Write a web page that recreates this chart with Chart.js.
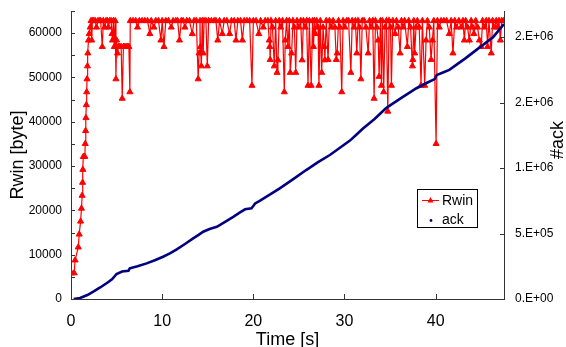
<!DOCTYPE html>
<html>
<head>
<meta charset="utf-8">
<script src="https://cdn.jsdelivr.net/npm/chart.js@4.4.1/dist/chart.umd.min.js"></script>
<style>
  html, body { margin: 0; padding: 0; background: #fff; }
  #wrap { width: 566px; height: 347px; }
</style>
</head>
<body>
<div id="wrap"><canvas id="rwinChart"></canvas></div>
<script>
// Rwin (受信ウィンドウ) : 時刻 [s] と値 [byte]
const rwinTime = [
  0.05, 0.35, 0.45, 0.8, 0.9, 1.05, 1.15, 1.22, 1.27, 1.3,
  1.35, 1.52, 1.56, 1.6, 1.64, 1.68, 1.72, 1.76, 1.8, 1.85,
  1.92, 2.0, 2.1, 2.2,
  2.27, 2.35, 2.5, 2.65, 2.8, 2.95, 3.1, 3.25, 3.43, 3.55,
  3.7, 3.85, 4.0, 4.1, 4.25, 4.4, 4.5, 4.55, 4.65, 4.75,
  4.85, 4.93, 5.0, 5.1, 5.2, 5.35, 5.5, 5.62, 5.75, 5.9,
  6.05, 6.2, 6.35, 6.46, 6.5,
  6.8, 7.1, 7.3, 7.5, 7.8, 8.1, 8.4, 8.65, 8.8, 9.1,
  9.3, 9.6, 9.86, 10.0, 10.2, 10.4, 10.7, 11.0, 11.2, 11.5,
  11.7, 11.9, 12.1, 12.3, 12.5, 12.7, 13.0, 13.3, 13.5, 13.75,
  13.95, 14.05, 14.15, 14.2, 14.3, 14.4, 14.5, 14.6, 14.8, 14.95,
  15.1, 15.4, 15.7, 15.9, 16.1, 16.3, 16.6, 16.8, 17.1, 17.4,
  17.6, 17.9, 18.1, 18.3, 18.6, 18.8, 19.0, 19.3, 19.6, 19.85,
  20.0, 20.3, 20.6, 20.8, 21.1, 21.3, 21.6, 21.75, 21.8, 21.85,
  21.95, 22.1, 22.3, 22.45, 22.6, 22.7, 22.85, 23.0, 23.2, 23.4,
  23.5, 23.65, 23.8, 23.95, 24.05, 24.2, 24.35, 24.5, 24.65, 24.8,
  25.0, 25.2, 25.35, 25.5, 25.7, 25.85, 26.0, 26.15, 26.35, 26.5,
  26.6, 26.7, 26.8, 26.95, 27.1, 27.2, 27.35, 27.5, 27.65, 27.8,
  27.85, 28.0, 28.2, 28.35, 28.55, 28.75, 28.95, 29.1, 29.2, 29.35,
  29.5, 29.7, 29.85, 30.05, 30.25, 30.45, 30.7, 30.85, 31.05, 31.2,
  31.35, 31.5, 31.65, 31.8, 31.95, 32.15, 32.35, 32.6, 32.75, 32.95,
  33.1, 33.25, 33.4, 33.55, 33.7, 33.8, 33.95, 34.05, 34.15, 34.3,
  34.45, 34.6, 34.75, 34.9, 35.05, 35.15, 35.3, 35.55, 35.7, 35.9,
  36.1, 36.25, 36.45, 36.6, 36.9, 37.05, 37.25, 37.45, 37.5, 37.6,
  37.7, 37.85, 38.0, 38.2, 38.4, 38.55, 38.8, 38.95, 39.1, 39.3,
  39.5, 39.65, 39.8, 40.05, 40.2, 40.4, 40.6, 40.9, 41.2, 41.5,
  41.7, 41.9, 42.1, 42.3, 42.55, 42.8, 43.0, 43.15, 43.3, 43.5,
  43.7, 43.9, 44.05, 44.2, 44.4, 44.6, 44.8, 45.0, 45.15, 45.35,
  45.55, 45.7, 45.85, 46.1, 46.25, 46.45, 46.65, 46.8, 46.95, 47.1,
  47.25, 47.45
];
const rwinBytes = [
  5840, 5840, 8760, 11680, 14600, 17520, 20440, 23360, 26280, 29200,
  32120, 32120, 35040, 37960, 40880, 43800, 46720, 49640, 52560, 55480,
  58400, 59860, 61320, 62780,
  58400, 62780, 62780, 62780, 61320, 62780, 62780, 62780, 56940, 62780,
  61320, 62780, 62780, 61320, 62780, 62780, 59860, 58400, 62780, 56940,
  62780, 49640, 58400, 55480, 56940, 56940, 56940, 45260, 56940, 56940,
  56940, 56940, 56940, 46720, 62780,
  62780, 62780, 61320, 62780, 62780, 62780, 62780, 59860, 62780, 61320,
  62780, 62780, 58400, 62780, 56940, 62780, 62780, 61320, 62780, 62780,
  62780, 58400, 62780, 62780, 61320, 62780, 62780, 59860, 62780, 62780,
  49640, 55480, 62780, 56940, 52560, 62780, 55480, 62780, 62780, 52560,
  62780, 62780, 62780, 62780, 58400, 62780, 59860, 62780, 62780, 59860,
  62780, 62780, 58400, 62780, 62780, 58400, 62780, 62780, 62780, 48180,
  62780, 62780, 59860, 62780, 61320, 62780, 62780, 58400, 56940, 54020,
  62780, 61320, 52560, 62780, 51100, 53920, 62780, 61320, 62780, 46720,
  58400, 62780, 56940, 62780, 51100, 55480, 62780, 61320, 51100, 62780,
  61320, 62780, 53920, 62780, 61320, 62780, 48180, 62780, 48180, 62780,
  56940, 62780, 59860, 62780, 61320, 48180, 62780, 51100, 61320, 56940,
  53920, 62780, 54020, 62780, 61320, 62780, 61320, 54020, 55480, 62780,
  61320, 46720, 62780, 61320, 62780, 62780, 51100, 62780, 61320, 62780,
  55480, 62780, 61320, 49640, 62780, 62780, 61320, 55480, 62780, 61320,
  62780, 45260, 62780, 61320, 58400, 50200, 62780, 48180, 62780, 46720,
  61320, 62780, 42340, 62780, 61320, 48180, 62780, 59860, 62780, 61320,
  55480, 62780, 61320, 62780, 56940, 62780, 61320, 52560, 54020, 62780,
  55480, 61320, 62780, 61320, 48180, 62780, 48180, 58400, 62780, 61320,
  54020, 58400, 62780, 35040, 62780, 61320, 62780, 62780, 62780, 59860,
  62780, 55480, 62780, 61320, 62780, 61320, 62780, 58400, 62780, 61320,
  58400, 62780, 61320, 59860, 62780, 61320, 58400, 56940, 62780, 61320,
  62780, 56940, 62780, 55480, 62780, 61320, 62780, 61320, 62780, 58400,
  62780, 62780
];

// ack 数 : 時刻 [s] と累積値
const ackTime = [
  0.3, 1.0, 1.8, 2.45, 3.2, 3.9, 4.5, 5.0, 5.6, 6.3,
  6.45, 7.3, 8.3, 9.2, 10.1, 10.9, 11.6, 12.5, 13.4, 14.0,
  14.5, 15.2, 16.0, 16.9, 17.8, 18.5, 19.1, 19.8, 20.2, 20.7,
  21.8, 22.9, 24.3, 25.8, 27.1, 28.4, 29.5, 30.6, 31.3, 32.0,
  33.3, 34.6, 36.2, 37.9, 39.0, 39.9, 40.1, 40.8, 41.5, 42.3,
  43.3, 44.8, 46.3, 47.5
];
const ackCount = [
  0, 7600, 30000, 56000, 88000, 120000, 150000, 191000, 210000, 216000,
  234000, 250000, 272000, 296000, 323000, 350000, 379000, 420000, 463000, 490000,
  514000, 534000, 552000, 590000, 628000, 660000, 685000, 692000, 730000, 750000,
  797000, 845000, 912000, 985000, 1045000, 1100000, 1155000, 1210000, 1255000, 1300000,
  1375000, 1460000, 1535000, 1610000, 1650000, 1680000, 1710000, 1730000, 1750000, 1790000,
  1840000, 1920000, 2000000, 2100000
];

// 目盛り
const xTickValues = [0, 10, 20, 30, 40];
const leftTickValues = [0, 10000, 20000, 30000, 40000, 50000, 60000];
const leftMarkValues = [0, 5000, 10000, 15000, 20000, 25000, 30000, 35000, 40000, 45000, 50000, 55000, 60000, 65000];
const rightTickValues = [0, 500000, 1000000, 1500000, 2000000];
const rightTickLabels = ['0.E+00', '5.E+05', '1.E+06', '2.E+06', '2.E+06'];

const axisColor = '#333333';
const rwinColor = '#ff0000';
const ackColor = '#000080';

Chart.defaults.font.family = '"Liberation Sans", Arial, sans-serif';
Chart.defaults.color = '#000';

// 軸の幅を固定し、ラベルのはみ出し分の余白を消す
function fixWidth(w) {
    return s => { s.width = w; s.paddingTop = 0; s.paddingBottom = 0; };
}

// 内向きの目盛り線、凡例、右軸タイトル
const decorPlugin = {
    id: 'decor',
    afterDraw(chart) {
        const ctx = chart.ctx;
        const area = chart.chartArea;
        const sx = chart.scales.x, sy = chart.scales.y, sy2 = chart.scales.y2;
        ctx.save();
        ctx.strokeStyle = axisColor;
        ctx.lineWidth = 1;
        ctx.beginPath();
        xTickValues.forEach(v => {
            const px = Math.round(sx.getPixelForValue(v)) + 0.5;
            ctx.moveTo(px, area.bottom);
            ctx.lineTo(px, area.bottom - 5);
        });
        leftMarkValues.forEach(v => {
            const py = Math.round(sy.getPixelForValue(v)) + 0.5;
            ctx.moveTo(area.left, py);
            ctx.lineTo(area.left + 4, py);
        });
        rightTickValues.forEach(v => {
            const py = Math.round(sy2.getPixelForValue(v)) + 0.5;
            ctx.moveTo(area.right, py);
            ctx.lineTo(area.right - 4, py);
        });
        ctx.stroke();

        // #ack
        ctx.save();
        ctx.translate(558, 140);
        ctx.rotate(-Math.PI / 2);
        ctx.fillStyle = '#000';
        ctx.font = '18px "Liberation Sans", Arial, sans-serif';
        ctx.textAlign = 'center';
        ctx.textBaseline = 'middle';
        ctx.fillText('#ack', 0, 0);
        ctx.restore();

        // 凡例
        ctx.fillStyle = '#fff';
        ctx.fillRect(417.5, 189.5, 60, 38);
        ctx.strokeStyle = '#000';
        ctx.strokeRect(417.5, 189.5, 60, 38);
        ctx.strokeStyle = rwinColor;
        ctx.beginPath();
        ctx.moveTo(422, 200.5);
        ctx.lineTo(439, 200.5);
        ctx.stroke();
        ctx.fillStyle = rwinColor;
        ctx.beginPath();
        ctx.moveTo(430.5, 197);
        ctx.lineTo(433.5, 202.5);
        ctx.lineTo(427.5, 202.5);
        ctx.closePath();
        ctx.fill();
        ctx.fillStyle = ackColor;
        ctx.beginPath();
        ctx.arc(431, 220.5, 1.4, 0, Math.PI * 2);
        ctx.fill();
        ctx.fillStyle = '#000';
        ctx.font = '14px "Liberation Sans", Arial, sans-serif';
        ctx.textAlign = 'left';
        ctx.textBaseline = 'middle';
        ctx.fillText('Rwin', 442, 201);
        ctx.fillText('ack', 442, 220);
        ctx.restore();
    }
};

const ctx = document.getElementById('rwinChart').getContext('2d');
new Chart(ctx, {
    type: 'line',
    data: {
        datasets: [{
            label: 'Rwin',
            data: rwinTime.map((t, i) => ({ x: t, y: rwinBytes[i] })),
            yAxisID: 'y',
            borderColor: rwinColor,
            backgroundColor: rwinColor,
            borderWidth: 1.2,
            pointStyle: 'triangle',
            pointRadius: 3.5,
            pointBorderWidth: 1,
            tension: 0,
            order: 1
        }, {
            label: 'ack',
            data: ackTime.map((t, i) => ({ x: t, y: ackCount[i] })),
            yAxisID: 'y2',
            borderColor: ackColor,
            backgroundColor: ackColor,
            borderWidth: 2.6,
            pointRadius: 0,
            tension: 0,
            order: 0
        }]
    },
    options: {
        responsive: true,
        maintainAspectRatio: false,
        animation: false,
        layout: { padding: { top: 11, left: 0, right: 0, bottom: 0 } },
        plugins: {
            legend: { display: false },
            tooltip: { enabled: false }
        },
        scales: {
            x: {
                type: 'linear',
                min: 0,
                max: 47.5,
                afterBuildTicks: s => { s.ticks = xTickValues.map(v => ({ value: v })); },
                afterFit: s => { s.height = 48; s.paddingLeft = 0; s.paddingRight = 0; },
                ticks: { font: { size: 16 }, padding: 13, maxRotation: 0, autoSkip: false },
                grid: { display: false, drawTicks: false },
                border: { display: true, color: axisColor, width: 1 },
                title: { display: true, text: 'Time [s]', font: { size: 18 }, padding: { top: 0, bottom: -4 } }
            },
            y: {
                position: 'left',
                min: 0,
                max: 65000,
                afterBuildTicks: s => { s.ticks = leftTickValues.map(v => ({ value: v })); },
                afterFit: fixWidth(71),
                ticks: { font: { size: 12 }, padding: 9, callback: v => String(v) },
                grid: { display: false, drawTicks: false },
                border: { display: true, color: axisColor, width: 1 },
                title: { display: true, text: 'Rwin [byte]', font: { size: 18 }, padding: { top: 7, bottom: 0 } }
            },
            y2: {
                position: 'right',
                min: 0,
                max: 2200000,
                afterBuildTicks: s => { s.ticks = rightTickValues.map(v => ({ value: v })); },
                afterFit: fixWidth(62),
                ticks: { font: { size: 12 }, padding: 11, callback: (v, i) => rightTickLabels[i] },
                grid: { display: false, drawTicks: false },
                border: { display: true, color: axisColor, width: 1 }
            }
        }
    },
    plugins: [decorPlugin]
});
</script>
</body>
</html>
